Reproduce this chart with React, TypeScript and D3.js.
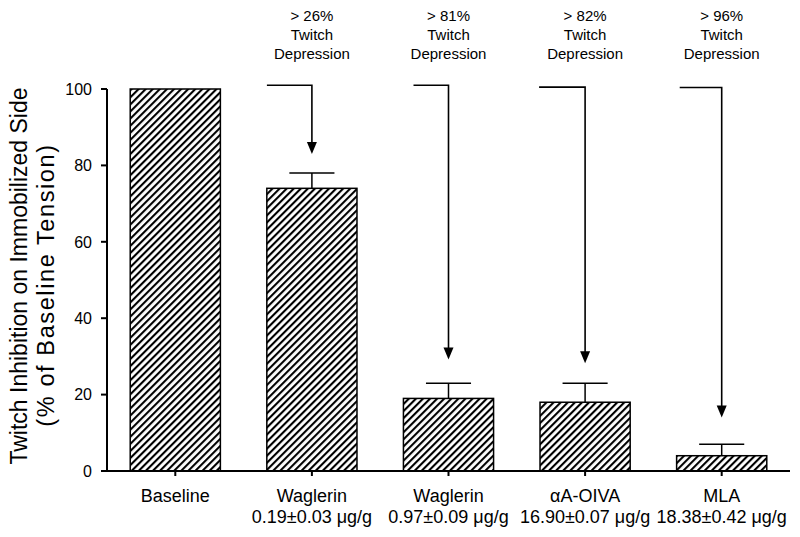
import React from 'react';
import * as d3 from 'd3';

const categories = ['Baseline', 'Waglerin', 'Waglerin', '\u03b1A-OIVA', 'MLA'];
const doseLabels = ['', '0.19\u00b10.03 \u03bcg/g', '0.97\u00b10.09 \u03bcg/g', '16.90\u00b10.07 \u03bcg/g', '18.38\u00b10.42 \u03bcg/g'];
const values = [100, 74, 19, 18, 4];
const errorTops = [100, 78, 23, 23, 7];
const yTicks = [0, 20, 40, 60, 80, 100];
const depressionLabels = ['', '> 26%', '> 81%', '> 82%', '> 96%'];
const arrowTipValues = [null, 83, 29.2, 28.2, 14];
const arrowTopValues = [null, 101, 101, 100.5, 100.4];
const arrowArmLengths = [0, 45, 35, 46, 42];

const W = 800;
const H = 537;
const FONT = '"Liberation Sans", Arial, Helvetica, sans-serif';

export default function App() {
  const x = d3.scaleBand<number>()
    .domain(d3.range(categories.length))
    .range([107, 790])
    .paddingInner(0.34)
    .paddingOuter(0.17);
  const y = d3.scaleLinear().domain([0, 100]).range([471, 89]);
  const bw = x.bandwidth();
  const cx = (i: number) => (x(i) as number) + bw / 2;

  return (
    <svg width={W} height={H} style={{ position: 'absolute', left: 0, top: 0, background: '#fff' }} fontFamily={FONT}>
      <defs>
        <pattern id="hatch" patternUnits="userSpaceOnUse" width={5} height={5} patternTransform="rotate(45)">
          <rect x={0} y={0} width={5} height={5} fill="#fff" />
          <rect x={0} y={0} width={2.1} height={5} fill="#000" />
        </pattern>
      </defs>
      <rect x={0} y={0} width={W} height={H} fill="#fff" />

      {values.map((v, i) => (
        <rect key={'b' + i} x={x(i)} y={y(v)} width={bw} height={y(0) - y(v)}
          fill="url(#hatch)" stroke="#000" strokeWidth={1.5} />
      ))}

      {values.map((v, i) => errorTops[i] > v ? (
        <g key={'e' + i} stroke="#000" strokeWidth={1.5}>
          <line x1={cx(i)} x2={cx(i)} y1={y(v)} y2={y(errorTops[i])} />
          <line x1={cx(i) - bw / 4} x2={cx(i) + bw / 4} y1={y(errorTops[i])} y2={y(errorTops[i])} />
        </g>
      ) : null)}

      <line x1={107} x2={107} y1={y(100)} y2={y(0)} stroke="#000" strokeWidth={2} />
      <line x1={106} x2={790} y1={y(0)} y2={y(0)} stroke="#000" strokeWidth={2} />
      {yTicks.map(t => (
        <g key={'yt' + t}>
          <line x1={101} x2={107} y1={y(t)} y2={y(t)} stroke="#000" strokeWidth={2} />
          <text x={92} y={y(t)} dy="0.36em" textAnchor="end" fontSize={16}>{t}</text>
        </g>
      ))}
      {categories.map((c, i) => (
        <g key={'xt' + i}>
          <line x1={cx(i)} x2={cx(i)} y1={y(0)} y2={y(0) + 5} stroke="#000" strokeWidth={2} />
          <text x={cx(i)} y={502} textAnchor="middle" fontSize={18}>{c}</text>
          {doseLabels[i] ? <text x={cx(i)} y={523} textAnchor="middle" fontSize={18}>{doseLabels[i]}</text> : null}
        </g>
      ))}

      <g transform={`translate(27, 276) rotate(-90)`}>
        <text x={0} y={0} textAnchor="middle" fontSize={23}>Twitch Inhibition on Immobilized Side</text>
      </g>
      <g transform={`translate(53.5, 285) rotate(-90)`}>
        <text x={0} y={0} textAnchor="middle" fontSize={23.5} letterSpacing={1.6}>(% of Baseline Tension)</text>
      </g>

      {depressionLabels.map((lab, i) => {
        if (!lab) return null;
        const ax = cx(i);
        const tip = y(arrowTipValues[i] as number);
        const top = y(arrowTopValues[i] as number);
        return (
          <g key={'a' + i}>
            <path d={`M${ax - arrowArmLengths[i]},${top} H${ax} V${tip - 11}`} fill="none" stroke="#000" strokeWidth={1.6} />
            <path d={`M${ax - 5},${tip - 12} L${ax + 5},${tip - 12} L${ax},${tip} Z`} fill="#000" />
            <text x={ax} y={20.5} textAnchor="middle" fontSize={15}>{lab}</text>
            <text x={ax} y={40} textAnchor="middle" fontSize={15}>Twitch</text>
            <text x={ax} y={58.5} textAnchor="middle" fontSize={15}>Depression</text>
          </g>
        );
      })}
    </svg>
  );
}
